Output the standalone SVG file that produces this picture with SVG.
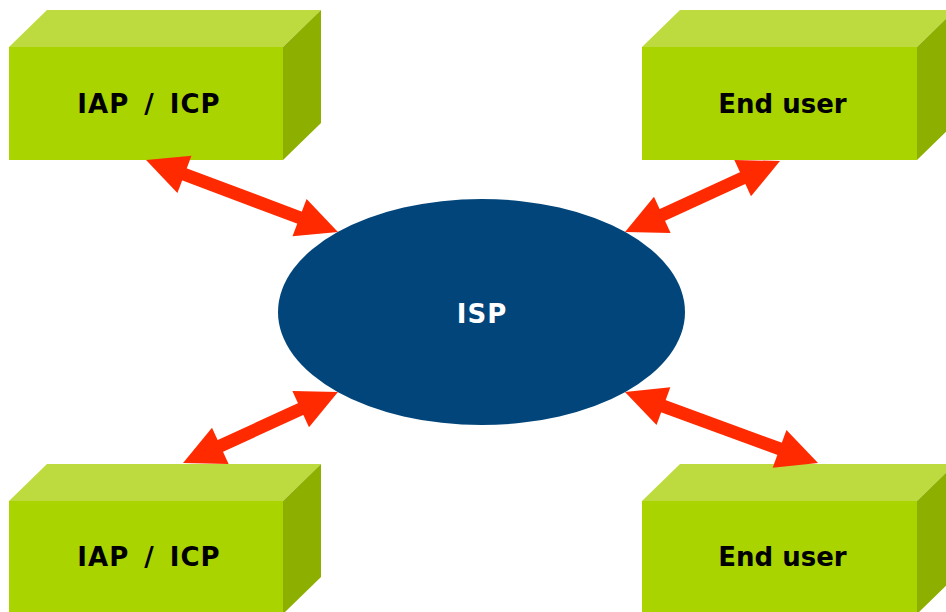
<svg xmlns="http://www.w3.org/2000/svg" width="946" height="612" viewBox="0 0 946 612">
<defs>
<style>
.front{fill:#AAD400}
.top{fill:#BDDB3F}
.side{fill:#8DB000}
.lbl{font-family:"DejaVu Sans","Verdana",sans-serif;font-weight:bold;font-size:26px;fill:#000;text-anchor:middle}
.wide{word-spacing:5px;letter-spacing:1px}
.isp{font-family:"DejaVu Sans","Verdana",sans-serif;font-weight:bold;font-size:26px;fill:#fff;text-anchor:middle;letter-spacing:1px}
.conn{stroke:#FF2A00;stroke-width:13;fill:none}
</style>
<marker id="ah" markerUnits="userSpaceOnUse" markerWidth="44" markerHeight="44" viewBox="-2 -22 44 44" refX="0" refY="0" orient="auto-start-reverse">
<path d="M-1,-20 L40,0 L-1,20 z" fill="#FF2A00"/>
</marker>
</defs>
<rect width="946" height="612" fill="#fff"/>
<g id="node-iap-top">
<polygon class="top" points="9,47 47,10 321,10 283,47"/>
<polygon class="side" points="283,47 321,10 321,123 283,160"/>
<rect class="front" x="9" y="47" width="274" height="113"/>
<text class="lbl wide" x="149" y="113">IAP / ICP</text>
</g>
<g id="node-enduser-top">
<polygon class="top" points="642,47 680,10 955,10 917,47"/>
<polygon class="side" points="917,47 955,10 955,123 917,160"/>
<rect class="front" x="642" y="47" width="275" height="113"/>
<text class="lbl" x="782.5" y="113">End user</text>
</g>
<g id="node-iap-bottom">
<polygon class="top" points="9,501 47,464 321,464 283,501"/>
<polygon class="side" points="283,501 321,464 321,577 283,614"/>
<rect class="front" x="9" y="501" width="274" height="113"/>
<text class="lbl wide" x="149" y="566">IAP / ICP</text>
</g>
<g id="node-enduser-bottom">
<polygon class="top" points="642,501 680,464 955,464 917,501"/>
<polygon class="side" points="917,501 955,464 955,577 917,614"/>
<rect class="front" x="642" y="501" width="275" height="113"/>
<text class="lbl" x="782.5" y="566">End user</text>
</g>
<g id="node-isp">
<ellipse cx="481.5" cy="312" rx="203.5" ry="113" fill="#02457A"/>
<text class="isp" x="482" y="323">ISP</text>
</g>
<g id="connectors">
<line class="conn" x1="183.5" y1="174" x2="300.5" y2="218" marker-start="url(#ah)" marker-end="url(#ah)"/>
<line class="conn" x1="743.6" y1="177.7" x2="661.4" y2="215.3" marker-start="url(#ah)" marker-end="url(#ah)"/>
<line class="conn" x1="301.6" y1="408.7" x2="219.4" y2="446.3" marker-start="url(#ah)" marker-end="url(#ah)"/>
<line class="conn" x1="662.5" y1="405.8" x2="780.5" y2="449.2" marker-start="url(#ah)" marker-end="url(#ah)"/>
</g>
</svg>
